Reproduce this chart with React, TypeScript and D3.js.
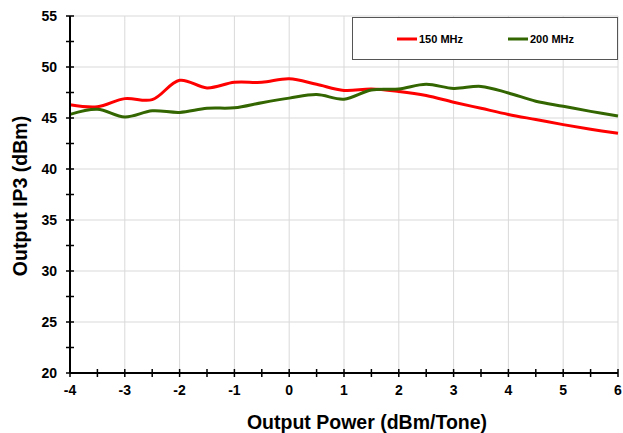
import React from "react";
import * as d3 from "d3";

const xValues = [-4, -3.5, -3, -2.5, -2, -1.5, -1, -0.5, 0, 0.5, 1, 1.5, 2, 2.5, 3, 3.5, 4, 4.5, 5, 5.5, 6];
const mhz150 = [46.3, 46.1, 46.9, 46.8, 48.7, 47.95, 48.5, 48.5, 48.85, 48.3, 47.7, 47.85, 47.6, 47.2, 46.55, 45.95, 45.35, 44.85, 44.35, 43.9, 43.5];
const mhz200 = [45.35, 45.85, 45.1, 45.7, 45.55, 45.95, 46.0, 46.5, 46.95, 47.3, 46.85, 47.75, 47.85, 48.3, 47.9, 48.1, 47.45, 46.65, 46.15, 45.65, 45.2];
const seriesNames = ["150 MHz", "200 MHz"];
const seriesColors = ["#ff0000", "#336600"];
const xTicks = [-4, -3, -2, -1, 0, 1, 2, 3, 4, 5, 6];
const yTicks = [20, 25, 30, 35, 40, 45, 50, 55];

export default function App() {
  const W = 623, H = 433;
  const left = 70, right = 618, top = 16, bottom = 373;
  const x = d3.scaleLinear().domain([-4, 6]).range([left, right]);
  const y = d3.scaleLinear().domain([20, 55]).range([bottom, top]);
  const line = d3
    .line<[number, number]>()
    .x((d) => x(d[0]))
    .y((d) => y(d[1]))
    .curve(d3.curveCatmullRom.alpha(0.5));
  const series = [mhz150, mhz200];
  const minorX = d3.range(-4, 6.01, 0.5);
  const minorY = d3.range(20, 55.01, 2.5);
  const font = "'Liberation Sans', Arial, sans-serif";
  return (
    <svg width={W} height={H} style={{ position: "absolute", left: 0, top: 0 }} fontFamily={font}>
      <rect x={0} y={0} width={W} height={H} fill="#fff" />
      {xTicks.slice(1).map((t) => (
        <line key={"gx" + t} x1={x(t)} x2={x(t)} y1={top} y2={bottom} stroke="#d9d9d9" strokeWidth={1} />
      ))}
      {yTicks.slice(1).map((t) => (
        <line key={"gy" + t} x1={left} x2={right} y1={y(t)} y2={y(t)} stroke="#d9d9d9" strokeWidth={1} />
      ))}
      {series.map((s, i) => (
        <path
          key={"s" + i}
          d={line(xValues.map((xv, j) => [xv, s[j]] as [number, number])) || ""}
          fill="none"
          stroke={seriesColors[i]}
          strokeWidth={3}
        />
      ))}
      <line x1={left} x2={left} y1={top} y2={bottom} stroke="#000" strokeWidth={2} />
      <line x1={left} x2={right} y1={bottom} y2={bottom} stroke="#000" strokeWidth={2} />
      {minorY.map((t) => (
        <line key={"ty" + t} x1={left - 4} x2={left + 4} y1={y(t)} y2={y(t)} stroke="#000" strokeWidth={1.5} />
      ))}
      {minorX.map((t) => (
        <line key={"tx" + t} x1={x(t)} x2={x(t)} y1={bottom - 4} y2={bottom + 4} stroke="#000" strokeWidth={1.5} />
      ))}
      {yTicks.map((t) => (
        <text key={"ly" + t} x={left - 13} y={y(t)} dy="0.35em" textAnchor="end" fontSize={14} fontWeight="bold">
          {t}
        </text>
      ))}
      {xTicks.map((t) => (
        <text key={"lx" + t} x={x(t)} y={bottom + 22} textAnchor="middle" fontSize={14} fontWeight="bold">
          {t}
        </text>
      ))}
      <text x={367} y={429} textAnchor="middle" fontSize={19.5} fontWeight="bold">
        Output Power (dBm/Tone)
      </text>
      <text
        transform={`translate(26.5,196) rotate(-90)`}
        textAnchor="middle"
        fontSize={19.5}
        fontWeight="bold"
      >
        Output IP3 (dBm)
      </text>
      <rect x={352.5} y={17.5} width={265} height={42} fill="#fff" stroke="#555" strokeWidth={1} />
      {seriesNames.map((n, i) => {
        const lx = i === 0 ? 397 : 508;
        return (
          <g key={"lg" + i}>
            <line x1={lx} x2={lx + 20} y1={39} y2={39} stroke={seriesColors[i]} strokeWidth={3} />
            <text x={lx + 22} y={39} dy="0.35em" fontSize={11} fontWeight="bold">
              {n}
            </text>
          </g>
        );
      })}
    </svg>
  );
}
